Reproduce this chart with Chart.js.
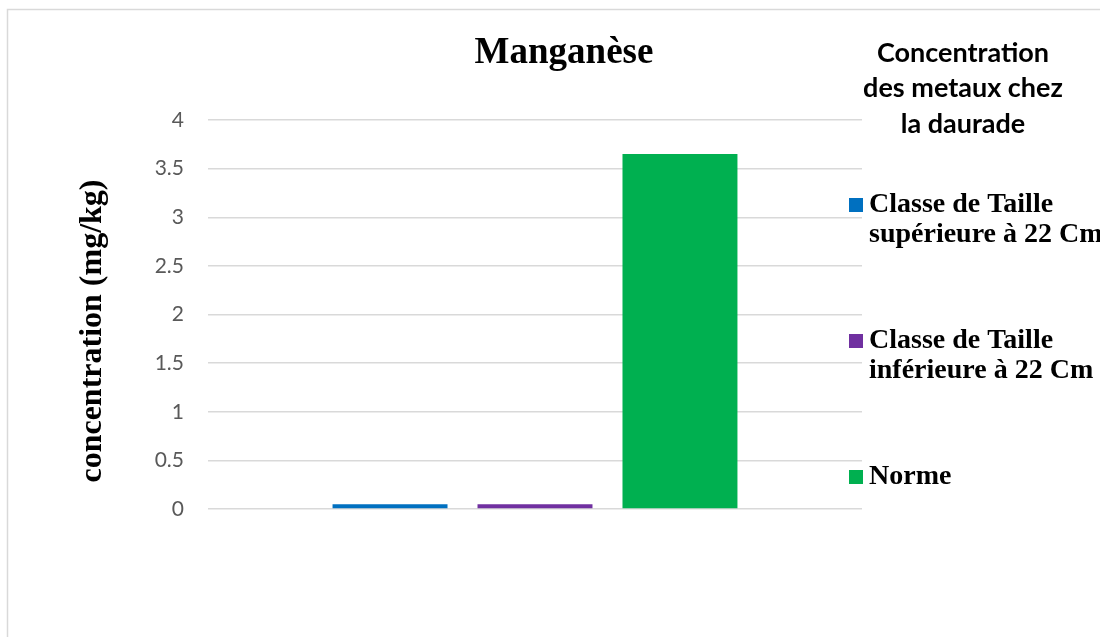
<!DOCTYPE html>
<html>
<head>
<meta charset="utf-8">
<script src="https://cdn.jsdelivr.net/npm/chart.js@4/dist/chart.umd.min.js"></script>
<style>
  html, body { margin: 0; padding: 0; background: #ffffff; }
  #wrap { width: 1100px; height: 637px; position: relative; }
</style>
</head>
<body>
<div id="wrap"><canvas id="c" width="1100" height="637"></canvas></div>
<script>
// ---- data ----
const categories = ["Manganèse"];
const seriesNames = ["Classe de Taille supérieure à 22 Cm", "Classe de Taille inférieure à 22 Cm", "Norme"];
const legendLines = [["Classe de Taille", "supérieure à 22 Cm"], ["Classe de Taille", "inférieure à 22 Cm"], ["Norme"]];
const superieur22 = [0.05];
const inferieur22 = [0.05];
const norme = [3.65];
const yTicks = [0, 0.5, 1, 1.5, 2, 2.5, 3, 3.5, 4];
const yTickLabels = ["0", "0.5", "1", "1.5", "2", "2.5", "3", "3.5", "4"];
const chartTitle = "Manganèse";
const yAxisTitle = "concentration (mg/kg)";
const legendTitle = ["Concentration", "des metaux chez", "la daurade"];
const colors = ["#0070C0", "#7030A0", "#00B050"];

const decor = {
  id: 'decor',
  beforeDraw(chart) {
    const ctx = chart.ctx;
    ctx.save();
    ctx.fillStyle = '#ffffff';
    ctx.fillRect(0, 0, chart.width, chart.height);
    ctx.strokeStyle = '#d9d9d9';
    ctx.lineWidth = 1.5;
    ctx.strokeRect(7.5, 9.5, 1300, 1000);
    ctx.restore();
  },
  afterDraw(chart) {
    const ctx = chart.ctx;
    ctx.save();
    // title
    ctx.fillStyle = '#000000';
    ctx.font = 'bold 37px "Liberation Serif"';
    ctx.textAlign = 'center';
    ctx.textBaseline = 'middle';
    ctx.fillText(chartTitle, 564, 53);
    // y axis title
    ctx.save();
    ctx.translate(93, 331);
    ctx.rotate(-Math.PI / 2);
    ctx.font = 'bold 32px "Liberation Serif"';
    ctx.fillText(yAxisTitle, 0, 0);
    ctx.restore();
    // legend title
    ctx.font = 'bold 27px Lato';
    const ty = [53, 88, 124];
    legendTitle.forEach((t, i) => ctx.fillText(t, 963, ty[i]));
    // legend items
    const itemY = [205, 341, 477];
    ctx.textAlign = 'left';
    chart.data.datasets.forEach((ds, i) => {
      ctx.fillStyle = ds.backgroundColor;
      ctx.fillRect(849, itemY[i] - 7, 14, 14);
      ctx.fillStyle = '#000000';
      ctx.font = 'bold 28px "Liberation Serif"';
      legendLines[i].forEach((ln, j) => ctx.fillText(ln, 869, itemY[i] + j * 30));
    });
    ctx.restore();
  }
};

new Chart(document.getElementById('c'), {
  type: 'bar',
  data: {
    labels: categories,
    datasets: [
      { label: seriesNames[0], data: superieur22, backgroundColor: colors[0] },
      { label: seriesNames[1], data: inferieur22, backgroundColor: colors[1] },
      { label: seriesNames[2], data: norme, backgroundColor: colors[2] }
    ]
  },
  options: {
    responsive: false,
    animation: false,
    devicePixelRatio: 1,
    layout: { padding: { left: 0, right: 238, top: 120, bottom: 128 } },
    datasets: { bar: { categoryPercentage: 0.665, barPercentage: 0.793 } },
    plugins: { legend: { display: false }, title: { display: false }, tooltip: { enabled: false } },
    scales: {
      x: { display: false },
      y: {
        min: 0, max: 4,
        afterFit(scale) { scale.width = 208; },
        afterBuildTicks(scale) { scale.ticks = yTicks.map(v => ({ value: v })); },
        border: { display: false },
        grid: { color: '#d9d9d9', lineWidth: 1.5, drawTicks: false },
        ticks: {
          color: '#595959', font: { family: 'Lato', size: 21 }, padding: 24,
          callback: (v) => yTickLabels[yTicks.indexOf(v)]
        }
      }
    }
  },
  plugins: [decor]
});
</script>
</body>
</html>
